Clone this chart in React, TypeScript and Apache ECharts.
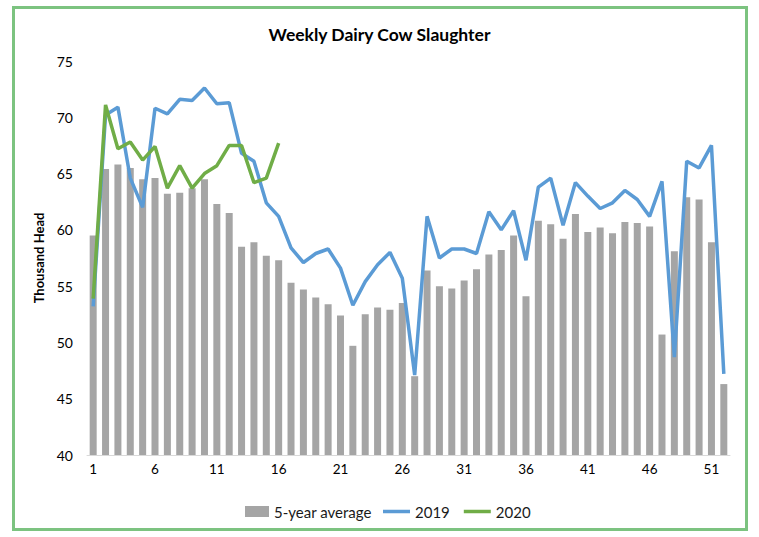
import React, { useEffect, useRef } from "react";
import * as echarts from "echarts";

const weeks: string[] = Array.from({ length: 52 }, (_, i) => String(i + 1));

const avg5yr: number[] = [
  59.5, 65.4, 65.8, 65.5, 64.5, 64.6, 63.2, 63.3, 63.7, 64.5,
  62.3, 61.5, 58.5, 58.9, 57.7, 57.3, 55.3, 54.7, 54.0, 53.4,
  52.4, 49.7, 52.5, 53.1, 52.9, 53.5, 47.0, 56.4, 55.0, 54.8,
  55.5, 56.5, 57.8, 58.2, 59.5, 54.1, 60.8, 60.5, 59.2, 61.4,
  59.8, 60.2, 59.7, 60.7, 60.6, 60.3, 50.7, 58.1, 62.9, 62.7,
  58.9, 46.3,
];

const y2019: number[] = [
  53.2, 70.2, 70.9, 64.6, 62.0, 70.8, 70.3, 71.6, 71.5, 72.6,
  71.2, 71.3, 66.8, 66.1, 62.4, 61.2, 58.4, 57.1, 57.9, 58.3,
  56.6, 53.3, 55.4, 56.9, 58.0, 55.7, 47.1, 61.2, 57.5, 58.3,
  58.3, 57.9, 61.6, 60.0, 61.7, 57.3, 63.8, 64.6, 60.4, 64.2,
  63.0, 61.9, 62.4, 63.5, 62.7, 61.2, 64.3, 48.7, 66.1, 65.5,
  67.5, 47.2,
];

const y2020: number[] = [
  53.9, 71.1, 67.2, 67.8, 66.2, 67.4, 63.7, 65.7, 63.7, 65.0,
  65.7, 67.5, 67.5, 64.2, 64.6, 67.7,
];

const yTicks = { min: 40, max: 75, interval: 5 };

export default function App() {
  const ref = useRef<HTMLDivElement>(null);
  useEffect(() => {
    if (!ref.current) return;
    const chart = echarts.init(ref.current, null, { renderer: "svg" });
    const font = "Lato, 'Open Sans', sans-serif";
    const legendText = { fontFamily: font, fontSize: 15, color: "#1a1a1a" };
    chart.setOption({
      animation: false,
      backgroundColor: "#ffffff",
      textStyle: { fontFamily: font },
      title: {
        text: "Weekly Dairy Cow Slaughter",
        left: "center",
        top: 20,
        textStyle: { fontFamily: font, fontSize: 17.5, fontWeight: "bold", color: "#000000" },
      },
      graphic: [
        {
          type: "rect",
          shape: { x: 13.5, y: 7.5, width: 733, height: 522 },
          style: { fill: "none", stroke: "#7CC380", lineWidth: 3 },
          silent: true,
        },
      ],
      legend: [
        {
          left: 240,
          top: 499,
          itemGap: 16,
          itemWidth: 24,
          itemHeight: 11,
          textStyle: legendText,
          data: [{ name: "5-year average", icon: "rect" }],
        },
        {
          left: 378,
          top: 499,
          itemGap: 14,
          itemWidth: 27,
          itemHeight: 3.5,
          textStyle: legendText,
          data: [
            { name: "2019", icon: "rect" },
            { name: "2020", icon: "rect" },
          ],
        },
      ],
      grid: { left: 87, right: 29, top: 61, bottom: 82, containLabel: false },
      xAxis: {
        type: "category",
        data: weeks,
        boundaryGap: true,
        axisLine: { show: true, lineStyle: { color: "#D9D9D9", width: 1 } },
        axisTick: { show: false },
        axisLabel: {
          interval: 4,
          color: "#000000",
          fontSize: 13.5,
          fontFamily: font,
          margin: 7,
        },
        splitLine: { show: false },
      },
      yAxis: {
        type: "value",
        min: yTicks.min,
        max: yTicks.max,
        interval: yTicks.interval,
        name: "Thousand Head",
        nameLocation: "middle",
        nameGap: 34,
        nameRotate: 90,
        nameTextStyle: { fontFamily: font, fontSize: 13, fontWeight: "bold", color: "#000000" },
        axisLine: { show: false },
        axisTick: { show: false },
        splitLine: { show: false },
        axisLabel: { color: "#000000", fontSize: 14, fontFamily: font, margin: 14 },
      },
      series: [
        {
          name: "5-year average",
          type: "bar",
          data: avg5yr,
          barWidth: 7,
          itemStyle: { color: "#A5A5A5" },
        },
        {
          name: "2019",
          type: "line",
          data: y2019,
          symbol: "none",
          lineStyle: { color: "#5B9BD5", width: 3.5 },
          itemStyle: { color: "#5B9BD5" },
        },
        {
          name: "2020",
          type: "line",
          data: y2020,
          symbol: "none",
          lineStyle: { color: "#70AD47", width: 3.5 },
          itemStyle: { color: "#70AD47" },
        },
      ],
    });
    return () => chart.dispose();
  }, []);
  return (
    <div
      ref={ref}
      style={{ position: "fixed", left: 0, top: 0, width: 759, height: 537 }}
    />
  );
}
